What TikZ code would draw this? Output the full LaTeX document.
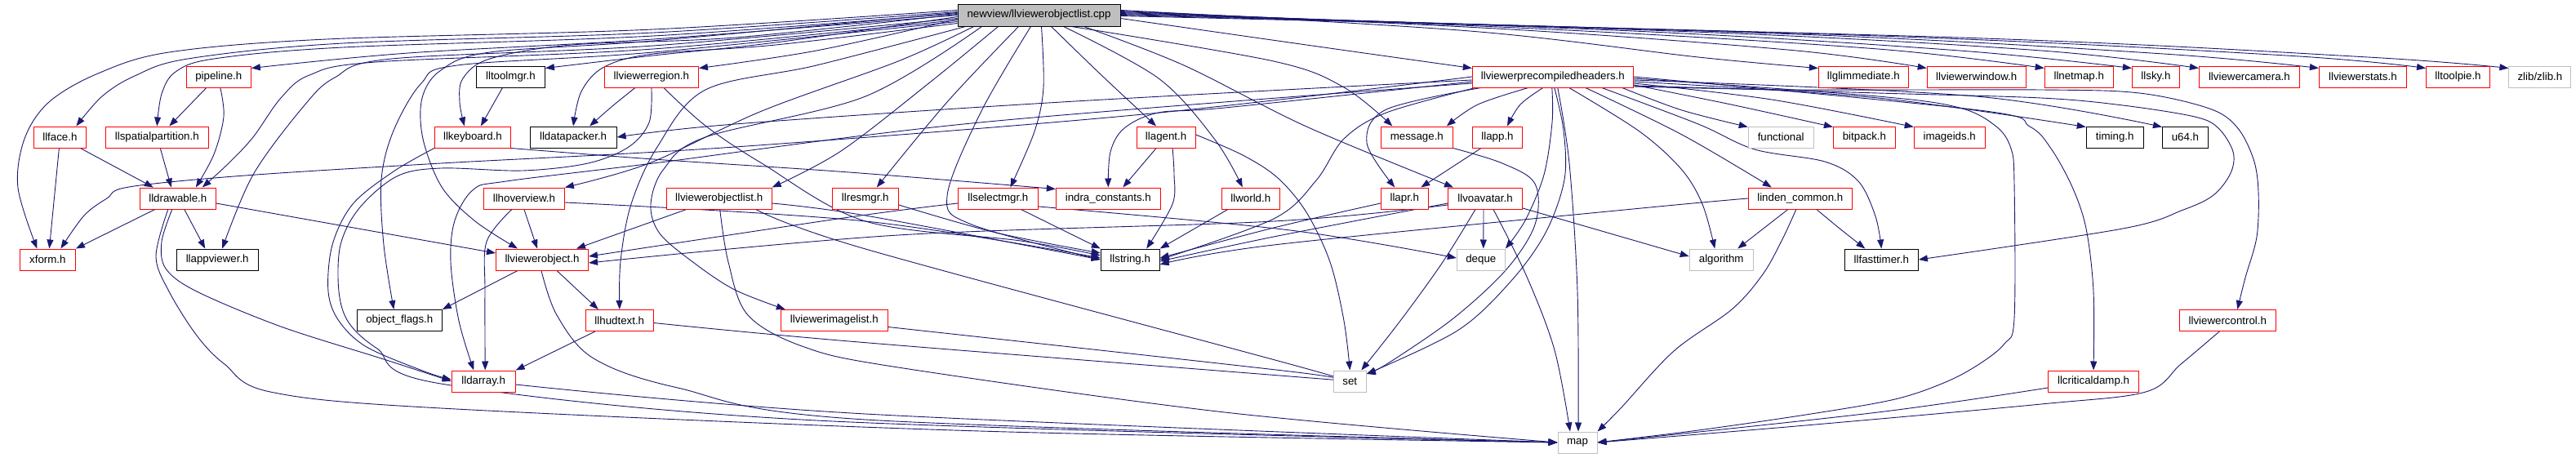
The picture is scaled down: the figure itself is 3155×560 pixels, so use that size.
\documentclass[tikz,border=0pt]{standalone}
\usepackage{fontspec}
\setmainfont{Liberation Sans}
\usetikzlibrary{arrows.meta}
\definecolor{edgeblue}{HTML}{191970}
\definecolor{boxgrey}{HTML}{BFBFBF}
\pgfdeclarelayer{edgelayer}
\pgfsetlayers{edgelayer,main}
\tikzset{
  nb/.style={draw, fill=white, line width=1pt, minimum height=26pt, inner sep=0pt, text=black, font=\fontsize{13.3}{15}\selectfont},
  rb/.style={nb, draw=red},
  kb/.style={nb, draw=black},
  gb/.style={nb, draw=boxgrey},
  rootbox/.style={nb, draw=black, fill=boxgrey, minimum height=27pt},
  e/.style={draw=edgeblue, line width=0.9pt, -{Triangle[length=11pt,width=8pt]}},
  sm/.style={smooth, tension=0.55}
}
\begin{document}
\begin{tikzpicture}[x=1pt,y=-1pt]
\useasboundingbox (0,0) rectangle (3155,560);
% ---------- nodes ----------
\node[rootbox, minimum width=199pt] (root) at (1272.5,18.5) {newview/llviewerobjectlist.cpp};
% row 1
\node[rb, minimum width=79pt]  (pipeline) at (267.8,94) {pipeline.h};
\node[kb, minimum width=84pt]  (lltoolmgr) at (625.4,94) {lltoolmgr.h};
\node[rb, minimum width=115pt] (llviewerregion) at (797.9,94) {llviewerregion.h};
\node[rb, minimum width=197pt] (pch) at (1901.8,94) {llviewerprecompiledheaders.h};
\node[rb, minimum width=110pt] (llglimmediate) at (2282.3,94) {llglimmediate.h};
\node[rb, minimum width=121pt] (llviewerwindow) at (2420.7,94) {llviewerwindow.h};
\node[rb, minimum width=84pt]  (llnetmap) at (2546.2,94) {llnetmap.h};
\node[rb, minimum width=58pt]  (llsky) at (2640.4,94) {llsky.h};
\node[rb, minimum width=123pt] (llviewercamera) at (2754.9,94) {llviewercamera.h};
\node[rb, minimum width=107pt] (llviewerstats) at (2893.9,94) {llviewerstats.h};
\node[rb, minimum width=78pt]  (lltoolpie) at (3010.5,94) {lltoolpie.h};
\node[gb, minimum width=76pt]  (zlib) at (3110.9,94) {zlib/zlib.h};
% row 2
\node[rb, minimum width=64pt]  (llface) at (73.4,168) {llface.h};
\node[rb, minimum width=126pt] (llspatialpartition) at (192.3,168) {llspatialpartition.h};
\node[rb, minimum width=93pt]  (llkeyboard) at (578.9,168) {llkeyboard.h};
\node[kb, minimum width=106pt] (lldatapacker) at (702.1,168) {lldatapacker.h};
\node[rb, minimum width=72pt]  (llagent) at (1428.1,168) {llagent.h};
\node[rb, minimum width=88pt]  (message) at (1735.3,168) {message.h};
\node[rb, minimum width=61pt]  (llapp) at (1834,168) {llapp.h};
\node[gb, minimum width=80pt]  (functional) at (2181.2,168) {functional};
\node[rb, minimum width=76pt]  (bitpack) at (2283.4,168) {bitpack.h};
\node[rb, minimum width=87pt]  (imageids) at (2387.7,168) {imageids.h};
\node[kb, minimum width=70pt]  (timing) at (2590.2,168) {timing.h};
\node[kb, minimum width=56pt]  (u64) at (2676.4,168) {u64.h};
% row 3
\node[rb, minimum width=93pt]  (lldrawable) at (217.8,243) {lldrawable.h};
\node[rb, minimum width=99pt]  (llhoverview) at (641.9,243) {llhoverview.h};
\node[rb, minimum width=129pt] (llvol) at (880.7,243) {llviewerobjectlist.h};
\node[rb, minimum width=81pt]  (llresmgr) at (1059.8,243) {llresmgr.h};
\node[rb, minimum width=98pt]  (llselectmgr) at (1222.4,243) {llselectmgr.h};
\node[rb, minimum width=128pt] (indra) at (1357.3,243) {indra\_constants.h};
\node[rb, minimum width=71pt]  (llworld) at (1531.8,243) {llworld.h};
\node[rb, minimum width=58pt]  (llapr) at (1720.3,243) {llapr.h};
\node[rb, minimum width=91pt]  (llvoavatar) at (1819,243) {llvoavatar.h};
\node[rb, minimum width=127pt] (linden) at (2204.8,243) {linden\_common.h};
% row 4
\node[rb, minimum width=68pt]  (xform) at (58.4,318) {xform.h};
\node[kb, minimum width=100pt] (llappviewer) at (266.2,318) {llappviewer.h};
\node[rb, minimum width=113pt] (llviewerobject) at (664,318) {llviewerobject.h};
\node[kb, minimum width=72pt]  (llstring) at (1384.2,318) {llstring.h};
\node[gb, minimum width=59pt]  (deque) at (1813.8,318) {deque};
\node[gb, minimum width=78pt]  (algorithm) at (2108.2,318) {algorithm};
\node[kb, minimum width=90pt]  (llfasttimer) at (2304.3,318) {llfasttimer.h};
% row 5
\node[kb, minimum width=104pt] (objectflags) at (489.3,392.5) {object\_flags.h};
\node[rb, minimum width=83pt]  (llhudtext) at (758.8,392.5) {llhudtext.h};
\node[rb, minimum width=131pt] (llviewerimagelist) at (1021.8,392.5) {llviewerimagelist.h};
\node[rb, minimum width=118pt] (llviewercontrol) at (2728.3,392.5) {llviewercontrol.h};
% row 6
\node[rb, minimum width=78pt]  (lldarray) at (592.2,467) {lldarray.h};
\node[gb, minimum width=40pt]  (set) at (1653.3,467) {set};
\node[rb, minimum width=111pt] (llcriticaldamp) at (2564,467) {llcriticaldamp.h};
% row 7
\node[gb, minimum width=48pt]  (map) at (1932,542) {map};

\begin{pgfonlayer}{edgelayer}
% ---------- edges from root ----------
\draw[e] plot[sm] coordinates {([yshift=6pt]root.west) (800,36) (400,48) (207,64) (120,90) (60,125) (30,170) (22,230) ([xshift=-13pt]xform.north)};
\draw[e] plot[sm] coordinates {([yshift=4pt]root.west) (800,40) (420,53) (230,72) (165,93) (125,118) ([xshift=20pt]llface.north)};
\draw[e] plot[sm] coordinates {([yshift=2pt]root.west) (800,44) (420,58) (262,72) (215,88) (198,115) (llspatialpartition.north)};
\draw[e] plot[sm] coordinates {(root.west) (800,48) (500,65) ([yshift=-3pt]pipeline.north east)};
\draw[e] plot[sm] coordinates {([yshift=-6pt]root.west) (800,60) (460,76) (379,92) (344,120) (310,168) (280,200) ([xshift=30pt]lldrawable.north)};
\draw[e] plot[sm] coordinates {([yshift=-4pt]root.west) (800,56) (480,72) (410,95) (372,130) (310,214) ([xshift=6pt]llappviewer.north)};
\draw[e] plot[sm] coordinates {([yshift=-8pt]root.west) (800,64) (560,80) (516,102) (482,160) (467,220) (470,300) ([xshift=-7pt]objectflags.north)};
\draw[e] plot[sm] coordinates {([yshift=-2pt]root.west) (950,52) (800,68) ([yshift=-3pt]lltoolmgr.north east)};
\draw[e] plot[sm] coordinates {([yshift=1pt]root.west) (900,46) (700,55) (600,72) (567,96) (563,125) ([xshift=-10pt]llkeyboard.north)};
\draw[e] plot[sm] coordinates {([yshift=-10pt]root.west) (950,55) (800,66) (740,82) (712,112) (lldatapacker.north)};
\draw[e] plot[sm] coordinates {([yshift=-5pt]root.west) (1000,62) ([yshift=-3pt]llviewerregion.north east)};
\draw[e] plot[sm] coordinates {([xshift=-80pt]root.south) (1100,75) (933,136) (795,200) (llhoverview.north east)};
\draw[e] plot[sm] coordinates {([yshift=3pt]root.west) (800,50) (600,64) (540,86) (517,120) (518,170) (541,229) (582,271) ([xshift=-30pt]llviewerobject.north)};
\draw[e] plot[sm] coordinates {([xshift=-50pt]root.south) (1140,100) (1030,185) (llvol.north east)};
\draw[e] plot[sm] coordinates {([xshift=-90pt]root.south) (1000,80) (864,110) (805,180) (773,250) (760,320) (llhudtext.north)};
\draw[e] plot[sm] coordinates {([xshift=-70pt]root.south) (1060,118) (864,168) (813,207) (797,250) (808,286) (850,322) (900,355) ([xshift=6pt]llviewerimagelist.north west)};
\draw[e] plot[sm] coordinates {([xshift=-25pt]root.south) (1160,125) ([xshift=14pt]llresmgr.north)};
\draw[e] plot[sm] coordinates {([xshift=3pt]root.south) (1278,107) (1267,161) ([xshift=15pt]llselectmgr.north)};
\draw[e] plot[sm] coordinates {([xshift=-10pt]root.south) (1202,136) (1160,240) (1190,275) (llstring.west)};
\draw[e] plot[sm] coordinates {([xshift=15pt]root.south) (1350,93) ([xshift=-12pt]llagent.north)};
\draw[e] plot[sm] coordinates {([xshift=30pt]root.south) (1419,96) (1488,171) ([xshift=-10pt]llworld.north)};
\draw[e] plot[sm] coordinates {([xshift=40pt]root.south) (1560,75) (1646,107) ([xshift=-30pt]message.north)};
\draw[e] plot[sm] coordinates {([xshift=55pt]root.south) (1450,80) (1600,155) ([xshift=-39pt]llvoavatar.north)};
\draw[e] plot[sm] coordinates {([yshift=-4pt]root.east) (1600,55) ([yshift=-3pt]pch.north west)};
\draw[e] plot[sm] coordinates {([yshift=6pt]root.east) (1800,38) (2080,70) ([yshift=-3pt]llglimmediate.north west)};
\draw[e] plot[sm] coordinates {([yshift=5pt]root.east) (1850,36) (2200,62) ([yshift=-3pt]llviewerwindow.north west)};
\draw[e] plot[sm] coordinates {([yshift=4pt]root.east) (1900,36) (2300,60) ([yshift=-3pt]llnetmap.north west)};
\draw[e] plot[sm] coordinates {([yshift=3pt]root.east) (2000,38) (2400,62) ([yshift=-3pt]llsky.north west)};
\draw[e] plot[sm] coordinates {([yshift=2pt]root.east) (2100,40) (2500,62) ([yshift=-3pt]llviewercamera.north west)};
\draw[e] plot[sm] coordinates {([yshift=1pt]root.east) (2200,42) (2650,66) ([yshift=-3pt]llviewerstats.north west)};
\draw[e] plot[sm] coordinates {(root.east) (2300,44) (2800,68) ([yshift=-3pt]lltoolpie.north west)};
\draw[e] plot[sm] coordinates {([yshift=-1pt]root.east) (2400,46) (2900,70) ([yshift=-3pt]zlib.north west)};

% ---------- edges from llviewerprecompiledheaders.h ----------
\draw[e] plot[sm] coordinates {([xshift=-30pt]pch.south) (1810,128) ([xshift=-8pt]message.north east)};
\draw[e] plot[sm] coordinates {([xshift=-12pt]pch.south) (1862,128) ([xshift=12pt]llapp.north)};
\draw[e] plot[sm] coordinates {([xshift=-88pt]pch.south) (1698,134) (1674,175) ([xshift=-12pt]llapr.north)};
\draw[e] plot[sm] coordinates {([xshift=-1pt]pch.south) (1901,150) (1891,214) (1868,270) (deque.north east)};
\draw[e] plot[sm] coordinates {([xshift=2pt]pch.south) (1915,160) (1916,220) (1893,285) (1850,345) (1785,405) ([yshift=9pt]set.east)};
\draw[e] plot[sm] coordinates {([xshift=6pt]pch.south) (1922,200) (1932,357) ([xshift=1pt]map.north)};
\draw[e] plot[sm] coordinates {([xshift=20pt]pch.south) (2008,161) (2059,207) (2085,250) ([xshift=-8pt]algorithm.north)};
\draw[e] plot[sm] coordinates {([xshift=40pt]pch.south) (2060,165) ([xshift=-35pt]linden.north)};
\draw[e] plot[sm] coordinates {([xshift=60pt]pch.south) (2080,152) (2149,183) (2235,198) (2276,222) (2297,265) (llfasttimer.north)};
\draw[e] plot[sm] coordinates {([xshift=85pt]pch.south) (2060,135) ([yshift=-1pt]functional.north west)};
\draw[e] plot[sm] coordinates {([yshift=-10pt]pch.east) (2120,128) ([yshift=-1pt]bitpack.north west)};
\draw[e] plot[sm] coordinates {([yshift=-8pt]pch.east) (2170,122) ([yshift=-1pt]imageids.north west)};
\draw[e] plot[sm] coordinates {([yshift=-6pt]pch.east) (2300,120) ([yshift=-1pt]timing.north west)};
\draw[e] plot[sm] coordinates {([yshift=-4pt]pch.east) (2420,118) ([yshift=-1pt]u64.north west)};
\draw[e] plot[sm] coordinates {(pch.east) (2424,135) (2486,155) (2512,182) (2538,229) (2555,280) (2564,357) (llcriticaldamp.north)};
\draw[e] plot[sm] coordinates {([yshift=-2pt]pch.east) (2300,118) (2400,132) (2445,155) (2463,182) (2467,225) (2467,390) (2455,421) (2424,446) (2383,468) (2321,489) (2218,507) (2080,527) (map.east)};
\draw[e] plot[sm] coordinates {([yshift=-12pt]pch.east) (2200,110) (2500,110) (2620,114) (2706,133) (2740,156) (2760,195) (2766,235) (2764,290) (2750,340) ([xshift=12pt]llviewercontrol.north)};
\draw[e] plot[sm] coordinates {([yshift=-11pt]pch.east) (2300,114) (2500,120) (2600,129) (2688,143) (2717,157) (2735,186) (2732,212) (2711,239) (2674,257) (2600,280) (llfasttimer.east)};
\draw[e] plot[sm] coordinates {(pch.west) (1400,140) (900,180) (540,200) (300,215) (158,229) (131,243) (103,264) ([xshift=16pt]xform.north)};
\draw[e] plot[sm] coordinates {([yshift=-4pt]pch.west) (1300,125) (900,152) (lldatapacker.east)};
\draw[e] plot[sm] coordinates {([yshift=-8pt]pch.west) (1200,150) (800,200) (620,222) (580,232) (557,270) (552,321) (562,393) ([xshift=-12pt]lldarray.north)};
\draw[e] plot[sm] coordinates {([yshift=-6pt]pch.west) (1500,132) (1419,138) (1377,157) (1360,186) (indra.north)};
\draw[e] plot[sm] coordinates {([xshift=-95pt]pch.south) (1698,138) (1646,170) (1612,221) (1560,268) (llstring.east)};

% ---------- other edges ----------
\draw[e] ([xshift=-15pt]pipeline.south) -- ([xshift=15pt]llspatialpartition.north);
\draw[e] plot[sm] coordinates {([xshift=2pt]pipeline.south) (274,143) (262,189) ([xshift=22pt]lldrawable.north)};
\draw[e] ([xshift=-1pt]llface.south) -- ([xshift=2pt]xform.north);
\draw[e] ([xshift=25pt]llface.south) -- ([xshift=-30pt]lldrawable.north);
\draw[e] ([xshift=4pt]llspatialpartition.south) -- ([xshift=-8pt]lldrawable.north);
\draw[e] ([xshift=-28pt]lldrawable.south) -- (xform.north east);
\draw[e] ([xshift=8pt]lldrawable.south) -- ([xshift=-15pt]llappviewer.north);
\draw[e] ([yshift=-6pt]lldrawable.east) -- ([yshift=8pt]llviewerobject.west);
\draw[e] plot[sm] coordinates {([xshift=-7pt]lldrawable.south) (198,296) (203,329) (241,357) (344,400) (470,440) (lldarray.west)};
\draw[e] plot[sm] coordinates {([xshift=-12pt]lldrawable.south) (191,314) (207,357) (241,411) (275,446) (331,480) (540,500) (1200,528) (map.west)};
\draw[e] plot[sm] coordinates {(llkeyboard.south west) (482,210) (432,250) (407,300) (402,357) (415,393) (449,425) (520,455) ([yshift=2pt]lldarray.west)};
\draw[e] plot[sm] coordinates {(llkeyboard.south east) (800,195) (1040,211) ([yshift=-2pt]indra.north west)};
\draw[e] ([xshift=-10pt]lltoolmgr.south) -- ([xshift=10pt]llkeyboard.north);
\draw[e] plot[sm] coordinates {([xshift=-20pt]llviewerregion.south) (750,130) ([xshift=20pt]lldatapacker.north)};
\draw[e] plot[sm] coordinates {([xshift=15pt]llviewerregion.south) (864,154) (933,200) (1060,271) (1250,295) ([yshift=5pt]llstring.west)};
\draw[e] plot[sm] coordinates {(llviewerregion.south) (795,150) (770,180) (720,200) (640,209) (540,206) (486,216) (440,255) (417,300) (415,357) (427,395) (462,427) (540,470) (1000,515) (map.west)};
\draw[e] (llhoverview.south) -- ([xshift=-6pt]llviewerobject.north);
\draw[e] plot[sm] coordinates {([xshift=-15pt]llhoverview.south) (596,296) (594,357) ([xshift=2pt]lldarray.north)};
\draw[e] plot[sm] coordinates {([yshift=-5pt]llhoverview.east) (1060,271) ([yshift=2pt]llstring.west)};
\draw[e] ([xshift=-40pt]llvol.south) -- ([xshift=42pt]llviewerobject.north);
\draw[e] plot[sm] coordinates {([xshift=1pt]llvol.south) (892,321) (916,386) (985,425) (1100,450) (1500,505) (map.west)};
\draw[e] plot[sm] coordinates {([xshift=45pt]llvol.south) (1060,305) (1580,446) ([yshift=5pt]set.west)};
\draw[e] plot[sm] coordinates {([yshift=-6pt]llvol.east) (1060,264) (llstring.west)};
\draw[e] ([xshift=-30pt]llviewerobject.south) -- (objectflags.north east);
\draw[e] ([xshift=18pt]llviewerobject.south) -- ([xshift=-26pt]llhudtext.north);
\draw[e] plot[sm] coordinates {([xshift=-1pt]llviewerobject.south) (682,386) (727,439) (830,475) (1060,514) (map.west)};
\draw[e] ([xshift=-30pt]llhudtext.south) -- (lldarray.north east);
\draw[e] plot[sm] coordinates {([yshift=-3pt]llhudtext.east) (1040,418) (1580,461) ([yshift=2pt]set.west)};
\draw[e] plot[sm] coordinates {([yshift=-8pt]llviewerimagelist.east) (1580,455) ([yshift=2pt]set.west)};
\draw[e] plot[sm] coordinates {([yshift=-4pt]lldarray.east) (1060,507) (map.west)};
\draw[e] ([xshift=-12pt]llagent.south) -- ([xshift=18pt]indra.north);
\draw[e] plot[sm] coordinates {([xshift=8pt]llagent.south) (1438,214) (1436,250) ([xshift=20pt]llstring.north)};
\draw[e] plot[sm] coordinates {([yshift=3pt]llagent.east) (1522,190) (1565,218) (1600,260) (1629,321) (1646,393) (set.north)};
\draw[e] ([xshift=-28pt]llworld.south) -- (llstring.north east);
\draw[e] ([xshift=28pt]llselectmgr.south) -- (llstring.north west);
\draw[e] plot[sm] coordinates {([yshift=-6pt]llselectmgr.west) (1040,266) ([yshift=4pt]llviewerobject.east)};
\draw[e] plot[sm] coordinates {([yshift=-10pt]llselectmgr.east) (1580,282) ([yshift=2pt]deque.west)};
\draw[e] plot[sm] coordinates {([yshift=-8pt]llresmgr.east) (1220,285) ([yshift=8pt]llstring.west)};
\draw[e] plot[sm] coordinates {([yshift=-8pt]llvoavatar.west) (1560,271) (1100,288) ([yshift=-4pt]llviewerobject.east)};
\draw[e] plot[sm] coordinates {([yshift=-6pt]llvoavatar.west) (1560,290) ([yshift=-2pt]llstring.east)};
\draw[e] ([xshift=-2pt]llvoavatar.south) -- ([xshift=3pt]deque.north);
\draw[e] plot[sm] coordinates {([xshift=-12pt]llvoavatar.south) (1767,321) (1715,393) ([xshift=14pt]set.north)};
\draw[e] plot[sm] coordinates {([xshift=10pt]llvoavatar.south) (1870,339) (1904,429) ([xshift=-9pt]map.north)};
\draw[e] ([yshift=-12pt]llvoavatar.east) -- ([yshift=4pt]algorithm.west);
\draw[e] ([xshift=-20pt]llapp.south) -- ([xshift=20pt]llapr.north);
\draw[e] plot[sm] coordinates {([yshift=-6pt]llapr.west) (1560,279) ([yshift=2pt]llstring.east)};
\draw[e] plot[sm] coordinates {(message.south east) (1840,200) (1880,225) (1880,275) (1845,330) (1780,390) (1700,445) ([yshift=9pt]set.east)};
\draw[e] ([xshift=-15pt]linden.south) -- ([xshift=20pt]algorithm.north);
\draw[e] plot[sm] coordinates {([xshift=20pt]linden.south) (2252,279) ([xshift=-20pt]llfasttimer.north)};
\draw[e] plot[sm] coordinates {([xshift=-5pt]linden.south) (2183,293) (2159,336) (2121,379) (2050,430) (1985,500) (map.north east)};
\draw[e] plot[sm] coordinates {(linden.west) (2000,256) (1560,300) ([yshift=-6pt]llstring.east)};
\draw[e] plot[sm] coordinates {([yshift=-8pt]llcriticaldamp.west) (2300,505) (map.east)};
\draw[e] plot[sm] coordinates {([xshift=-10pt]llviewercontrol.south) (2671,446) (2628,480) (2500,495) (2200,522) (map.east)};
\end{pgfonlayer}
\end{tikzpicture}
\end{document}
